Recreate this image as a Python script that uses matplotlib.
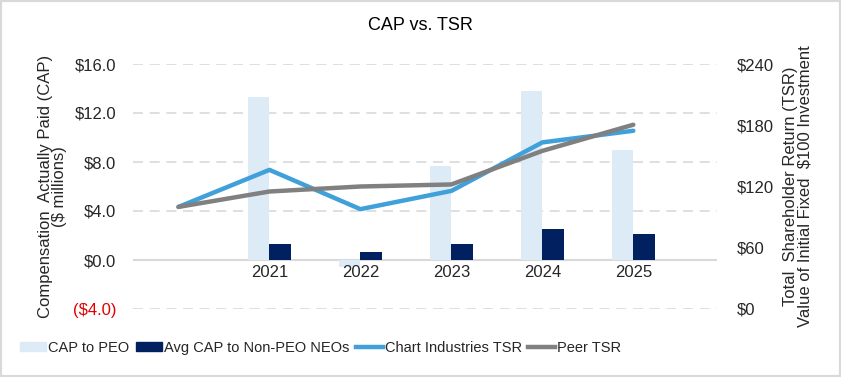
import numpy as np
import matplotlib
matplotlib.use('Agg')
import matplotlib.pyplot as plt
from matplotlib.patches import Patch, Rectangle
from matplotlib.lines import Line2D

plt.rcParams['font.family'] = ['Liberation Sans', 'DejaVu Sans']

# Data
years = ['', '2021', '2022', '2023', '2024', '2025']
cap_peo = [np.nan, 13.3, -0.6, 7.7, 13.8, 9.0]
cap_neo = [np.nan, 1.3, 0.65, 1.3, 2.5, 2.1]
chart_tsr = [100, 136.3, 97.8, 115.7, 163.2, 174.6]
peer_tsr = [100, 115.1, 120.0, 122.0, 154.9, 180.5]

left_ticks = [-4, 0, 4, 8, 12, 16]
left_labels = ['($4.0)', '$0.0', '$4.0', '$8.0', '$12.0', '$16.0']
right_ticks = [0, 60, 120, 180, 240]
right_labels = ['$0', '$60', '$120', '$180', '$240']

c_peo = '#DDEBF7'
c_neo = '#002060'
c_tsr = '#3FA0DA'
c_peer = '#808080'
c_grid = '#D9D9D9'
c_text = '#262626'

fig = plt.figure(figsize=(8.41, 3.77), dpi=100)
ax = fig.add_axes([133 / 841, 1 - 309 / 377, 584 / 841, 245 / 377])
ax2 = ax.twinx()

x = np.arange(len(years))
w = 0.235
ax.bar(x - w / 2, cap_peo, width=w, color=c_peo, zorder=2)
ax.bar(x + w / 2, cap_neo, width=w, color=c_neo, zorder=2)

ax2.plot(x, chart_tsr, color=c_tsr, lw=3.2, solid_capstyle='round')
ax2.plot(x, peer_tsr, color=c_peer, lw=3.2, solid_capstyle='round')

ax.set_xlim(-0.5, 5.92)
ax.set_ylim(-4, 16)
ax2.set_ylim(0, 240)

# grid
for t in left_ticks:
    if t == 0:
        ax.axhline(t, color=c_grid, lw=1.5, zorder=1)
    else:
        ax.axhline(t, color=c_grid, lw=1.2, ls=(0, (6, 4)), zorder=1)

ax.set_yticks(left_ticks)
ax.set_yticklabels(left_labels, fontsize=12, color=c_text)
for lab in ax.get_yticklabels():
    if lab.get_text().startswith('('):
        lab.set_color('#E00000')
ax2.set_yticks(right_ticks)
ax2.set_yticklabels(right_labels, fontsize=12, color=c_text)
ax.tick_params(axis='y', length=0, pad=12)
ax2.tick_params(axis='y', length=0, pad=14)

ax.set_xticks([])
for i, yr in enumerate(years):
    if yr:
        ax.text(x[i], -1.0, yr, ha='center', va='center', fontsize=12, color=c_text)

for a in (ax, ax2):
    for s in a.spines.values():
        s.set_visible(False)

ax.set_ylabel('Compensation  Actually Paid (CAP)\n($ millions)', fontsize=12,
              color=c_text, labelpad=4, linespacing=0.95)
ax2.set_ylabel('Total  Shareholder Return (TSR)\nValue of Initial Fixed  $100 Investment',
               fontsize=12, color=c_text, labelpad=7, linespacing=0.95)

fig.text(420 / 841, 1 - 26 / 377, 'CAP vs. TSR', ha='center', va='center',
         fontsize=13, color='#000000')

handles = [Patch(color=c_peo), Patch(color=c_neo),
           Line2D([], [], color=c_tsr, lw=3.2), Line2D([], [], color=c_peer, lw=3.2)]
names = ['CAP to PEO', 'Avg CAP to Non-PEO NEOs', 'Chart Industries TSR', 'Peer TSR']
leg = fig.legend(handles, names, loc='center left', bbox_to_anchor=(14 / 841, 1 - 348 / 377),
                 ncol=4, frameon=False, fontsize=10.5, handlelength=1.8, handleheight=0.55,
                 handletextpad=0.15, columnspacing=0.45, borderaxespad=0)
for t in leg.get_texts():
    t.set_color(c_text)

fig.patches.append(Rectangle((0, 0), 1, 1, transform=fig.transFigure, fill=False,
                             edgecolor='#D9D9D9', lw=3))

fig.savefig('out.png', dpi=100)
